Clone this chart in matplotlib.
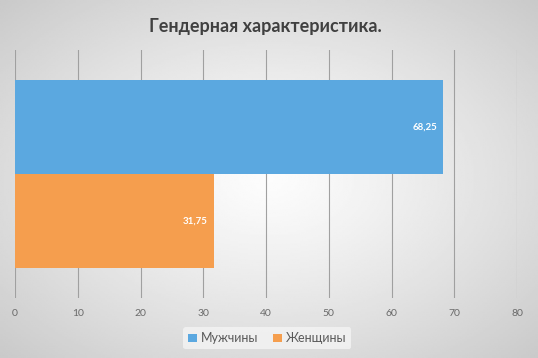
import numpy as np
import matplotlib
matplotlib.use("Agg")
import matplotlib.pyplot as plt

plt.rcParams["font.family"] = ["Lato", "DejaVu Sans"]

title = "Гендерная характеристика."
series = ["Мужчины", "Женщины"]
values = [68.25, 31.75]
labels = ["68,25", "31,75"]
colors = ["#5BA8E0", "#F59E4E"]
xticks = [0, 10, 20, 30, 40, 50, 60, 70, 80]

fig = plt.figure(figsize=(5.38, 3.58), dpi=100)

# background radial gradient
bg = fig.add_axes([0, 0, 1, 1], zorder=-10)
yy, xx = np.mgrid[-1:1:200j, -1:1:300j]
r = np.sqrt(xx**2 + yy**2) / np.sqrt(2)
g = 0.99 - 0.2 * r**1.2
bg.imshow(g, cmap="gray", vmin=0, vmax=1, aspect="auto", extent=[0, 1, 0, 1])
bg.axis("off")

ax = fig.add_axes([15/538, 60/358, 502/538, 248/358])
ax.patch.set_alpha(0)
bar_h = 0.379
offsets = [bar_h/2, -bar_h/2]
for i, (s, v, c, lab) in enumerate(zip(series, values, colors, labels)):
    ax.barh(offsets[i], v, height=bar_h, color=c, label=s, zorder=3)
    ax.text(v - 1.0, offsets[i], lab, ha="right", va="center", color="white",
            fontsize=7, fontweight="bold", zorder=4)

ax.set_xlim(0, 80)
ax.set_ylim(-0.5, 0.5)
ax.set_xticks(xticks)
ax.set_xticklabels([str(t) for t in xticks], fontsize=7.5, color="#6a6a6a")
ax.tick_params(axis="x", length=0, pad=8)
ax.set_yticks([])
ax.grid(axis="x", color="#a0a0a0", linewidth=0.8, zorder=0)
for sp in ax.spines.values():
    sp.set_visible(False)

fig.text(0.493, 0.925, title, ha="center", va="center", fontsize=13,
         fontweight="bold", color="#404040")

handles, lbls = ax.get_legend_handles_labels()
leg = fig.legend(handles, lbls, loc="center", bbox_to_anchor=(0.497, 0.055),
                 ncol=2, frameon=True, fontsize=9, handlelength=0.7,
                 handleheight=0.7, handletextpad=0.3, columnspacing=1.2,
                 borderpad=0.4)
leg.get_frame().set_facecolor("#f4f4f4")
leg.get_frame().set_edgecolor("none")
leg.get_frame().set_alpha(0.8)
for t in leg.get_texts():
    t.set_color("#595959")

fig.savefig("out.png", dpi=100)
